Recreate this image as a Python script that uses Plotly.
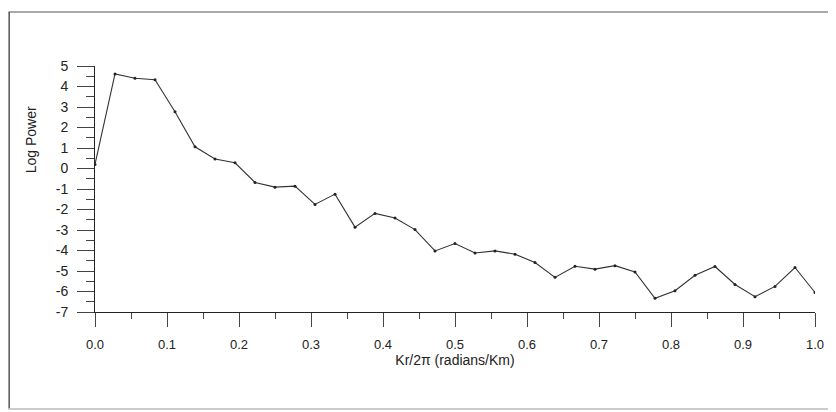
import plotly.graph_objects as go

# Data: wavenumber (Kr/2pi) and log power
k_values = [i / 36 for i in range(37)]
log_power = [0.2, 4.61, 4.40, 4.33, 2.77, 1.06, 0.46, 0.28, -0.68, -0.91,
             -0.86, -1.75, -1.25, -2.86, -2.19, -2.41, -2.98, -4.02, -3.66, -4.12,
             -4.02, -4.18, -4.59, -5.31, -4.77, -4.91, -4.74, -5.05, -6.33, -5.96,
             -5.21, -4.78, -5.66, -6.25, -5.75, -4.83, -6.05]

x_tickvals = [0.0, 0.1, 0.2, 0.3, 0.4, 0.5, 0.6, 0.7, 0.8, 0.9, 1.0]
x_ticktext = ["0.0", "0.1", "0.2", "0.3", "0.4", "0.5", "0.6", "0.7", "0.8", "0.9", "1.0"]
y_tickvals = [5, 4, 3, 2, 1, 0, -1, -2, -3, -4, -5, -6, -7]
y_ticktext = ["5", "4", "3", "2", "1", "0", "-1", "-2", "-3", "-4", "-5", "-6", "-7"]

FONT = "Liberation Sans, Arial, sans-serif"

fig = go.Figure()
fig.add_trace(go.Scatter(
    x=k_values, y=log_power, mode="lines+markers",
    line=dict(color="#333333", width=1.1),
    marker=dict(color="#222222", size=3),
    showlegend=False,
))

OFF = 8  # page body margin
W, H = 836 - OFF, 412 - OFF
# page-coordinate plot box: x 95..819, y 66..312
L, T = 95 - OFF, 66 - OFF
R = W - (819 - OFF)
B = H - (312 - OFF)
pw, ph = W - L - R, H - T - B

def px(x):  # page x -> paper
    return (x - OFF - L) / pw

def py(y):  # page y -> paper
    return (H - B - (y - OFF)) / ph

shapes = [
    dict(type="line", xref="paper", yref="paper", x0=px(8.7), x1=px(8.7), y0=py(12), y1=py(409),
         line=dict(color="#555555", width=1.5)),
    dict(type="line", xref="paper", yref="paper", x0=px(8), x1=px(836), y0=py(12), y1=py(12),
         line=dict(color="#555555", width=1.2)),
    dict(type="line", xref="paper", yref="paper", x0=px(8), x1=px(836), y0=py(409), y1=py(409),
         line=dict(color="#cccccc", width=2)),
]

fig.update_layout(
    width=W, height=H,
    margin=dict(l=L, r=R, t=T, b=B),
    paper_bgcolor="white", plot_bgcolor="white",
    font=dict(family=FONT, size=13, color="#222222"),
    shapes=shapes,
    xaxis=dict(
        range=[0, 1], tickvals=x_tickvals, ticktext=x_ticktext,
        showgrid=False, zeroline=False, showline=True, linecolor="#222222", linewidth=1,
        ticks="outside", ticklen=14, tickcolor="#444444", tickwidth=1,
        minor=dict(dtick=0.05, ticks="outside", ticklen=6, tickcolor="#444444", showgrid=False),
        ticklabelstandoff=6,
        title=dict(text="Kr/2π (radians/Km)", font=dict(size=14), standoff=2),
        tickfont=dict(size=13),
    ),
    yaxis=dict(
        range=[-7, 5], tickvals=y_tickvals, ticktext=y_ticktext,
        showgrid=False, zeroline=False, showline=True, linecolor="#222222", linewidth=1,
        ticks="outside", ticklen=17, tickcolor="#444444", tickwidth=1,
        minor=dict(dtick=0.5, ticks="outside", ticklen=8, tickcolor="#444444", showgrid=False),
        ticklabelstandoff=6,
        tickfont=dict(size=14),
    ),
    annotations=[dict(
        text="Log Power", xref="paper", yref="paper", x=px(31), y=py(140),
        showarrow=False, textangle=-90, font=dict(size=14), xanchor="center", yanchor="middle",
    )],
)

fig.write_html("out.html")
